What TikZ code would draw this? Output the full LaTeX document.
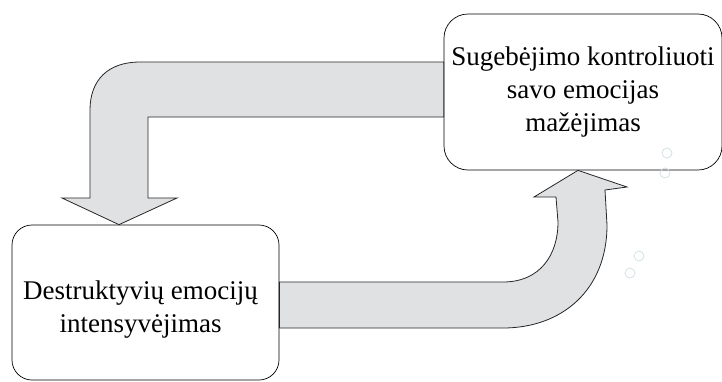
\documentclass[tikz,border=0pt]{standalone}
\usepackage{fontspec}
\setmainfont{Liberation Serif}
\usepackage{tikz}
\usetikzlibrary{calc}

\definecolor{arrowgray}{RGB}{224,225,227}
\definecolor{bubble}{RGB}{205,222,222}

\begin{document}
\begin{tikzpicture}[x=1pt,y=-1pt,
	box/.style={draw,line width=0.7pt,rounded corners=20pt},
	boxtext/.style={align=center,inner sep=0pt,font=\fontsize{27}{33}\selectfont},
	blockarrow/.style={draw=black!85,line width=0.8pt,fill=arrowgray},
	bubbledot/.style={draw=bubble,line width=0.7pt}]
	\useasboundingbox (0,0) rectangle (722,381);

	\draw (583,92) node (ctrl) [box,minimum width=278pt,minimum height=156pt,rounded corners=24pt] {};
	\draw (ctrl.center) node (ctrltext) [boxtext] {Sugebėjimo kontroliuoti\\savo emocijas\\mažėjimas};
	\draw (145.5,302.5) node (destr) [box,minimum width=267pt,minimum height=155pt] {};
	\draw ($(destr.center)+(-5,7)$) node (destrtext) [boxtext] {Destruktyvių emocijų\\intensyvėjimas};

	% upper block arrow: from ctrl down to destr
	\draw[blockarrow] (ctrl.west |- 0,62) -- (140,62) .. controls (108,62) and (90,80) .. (90,110) -- (90,198) -- (62,198) -- (destr.north -| 119,0) -- (177,198) -- (148,198) -- (148,117) -- (ctrl.west |- 0,117) -- cycle;

	% lower block arrow: from destr up to ctrl
	\draw[blockarrow] (destr.east |- 0,282) -- (503,282) .. controls (540,282) and (558,255) .. (558,222) -- (556,197) -- (534,197) -- (ctrl.south -| 578,0) -- (627,187) -- (605,190) -- (607,225) .. controls (607,290) and (562,328) .. (503,328) -- (destr.east |- 0,328) -- cycle;

	% small bubbles
	\foreach \bx/\by in {667/153,665/173,639/256,630/273}
		\draw[bubbledot] (\bx,\by) circle (5pt);
\end{tikzpicture}
\end{document}
